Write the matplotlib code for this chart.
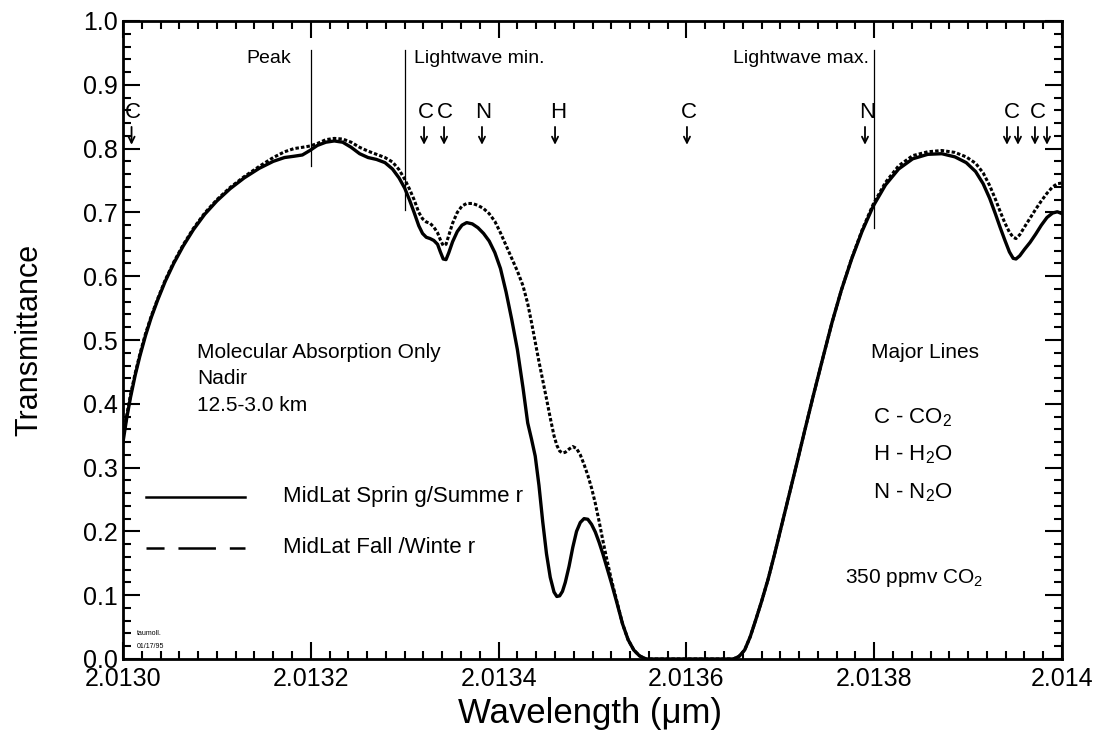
import matplotlib
matplotlib.use('Agg')
import matplotlib.pyplot as plt
from matplotlib.lines import Line2D

plt.rcParams['font.family'] = ['Liberation Sans', 'DejaVu Sans']
plt.rcParams['mathtext.fontset'] = 'custom'
plt.rcParams['mathtext.rm'] = 'Liberation Sans'
plt.rcParams['lines.scale_dashes'] = False

# ---- transmittance spectra (um, fraction) ----
wavelength = [
    2.013000, 2.013004, 2.013008, 2.013013, 2.013018, 2.013024, 2.013030, 2.013037, 2.013045, 2.013054,
    2.013064, 2.013075, 2.013087, 2.013100, 2.013114, 2.013129, 2.013145, 2.013160, 2.013172, 2.013182,
    2.013191, 2.013199, 2.013207, 2.013216, 2.013225, 2.013234, 2.013243, 2.013252, 2.013261, 2.013270,
    2.013279, 2.013287, 2.013294, 2.013300, 2.013305, 2.013310, 2.013315, 2.013319, 2.013323, 2.013327,
    2.013331, 2.013335, 2.013338, 2.013341, 2.013344, 2.013347, 2.013351, 2.013356, 2.013361, 2.013366,
    2.013372, 2.013378, 2.013384, 2.013390, 2.013396, 2.013402, 2.013408, 2.013414, 2.013420, 2.013426,
    2.013431, 2.013435, 2.013439, 2.013443, 2.013447, 2.013451, 2.013455, 2.013459, 2.013462, 2.013465,
    2.013468, 2.013471, 2.013475, 2.013479, 2.013483, 2.013487, 2.013491, 2.013495, 2.013499, 2.013503,
    2.013507, 2.013511, 2.013515, 2.013520, 2.013526, 2.013532, 2.013538, 2.013544, 2.013550, 2.013557,
    2.013610, 2.013650, 2.013656, 2.013662, 2.013668, 2.013674, 2.013680, 2.013687, 2.013694, 2.013701,
    2.013709, 2.013717, 2.013726, 2.013735, 2.013745, 2.013755, 2.013765, 2.013776, 2.013787, 2.013799,
    2.013812, 2.013826, 2.013841, 2.013857, 2.013872, 2.013886, 2.013898, 2.013908, 2.013916, 2.013923,
    2.013929, 2.013934, 2.013939, 2.013944, 2.013948, 2.013951, 2.013955, 2.013960, 2.013966, 2.013972,
    2.013978, 2.013984, 2.013990, 2.013995, 2.014000,
]
spring_summer = [
    0.340, 0.378, 0.410, 0.445, 0.475, 0.507, 0.535, 0.563, 0.592, 0.620,
    0.647, 0.673, 0.697, 0.718, 0.737, 0.754, 0.769, 0.780, 0.786, 0.788,
    0.790, 0.797, 0.805, 0.810, 0.812, 0.810, 0.802, 0.792, 0.786, 0.783,
    0.778, 0.768, 0.754, 0.738, 0.720, 0.700, 0.679, 0.667, 0.661, 0.659,
    0.656, 0.650, 0.638, 0.627, 0.626, 0.637, 0.654, 0.670, 0.680, 0.684,
    0.682, 0.676, 0.667, 0.655, 0.637, 0.612, 0.575, 0.532, 0.485, 0.425,
    0.370, 0.345, 0.318, 0.272, 0.215, 0.165, 0.128, 0.105, 0.098, 0.099,
    0.106, 0.120, 0.145, 0.175, 0.200, 0.214, 0.220, 0.219, 0.211, 0.199,
    0.183, 0.165, 0.145, 0.120, 0.088, 0.055, 0.030, 0.014, 0.005, 0.000,
    0.000, 0.000, 0.004, 0.014, 0.035, 0.062, 0.090, 0.125, 0.165, 0.207,
    0.255, 0.303, 0.358, 0.412, 0.470, 0.527, 0.578, 0.627, 0.670, 0.710,
    0.743, 0.768, 0.784, 0.791, 0.792, 0.787, 0.778, 0.764, 0.745, 0.722,
    0.698, 0.677, 0.657, 0.638, 0.628, 0.627, 0.632, 0.642, 0.653, 0.666,
    0.680, 0.692, 0.699, 0.701, 0.698,
]
fall_winter = [
    0.345, 0.382, 0.414, 0.448, 0.478, 0.510, 0.537, 0.565, 0.594, 0.622,
    0.649, 0.675, 0.699, 0.720, 0.739, 0.756, 0.772, 0.786, 0.795, 0.800,
    0.802, 0.804, 0.808, 0.814, 0.816, 0.815, 0.810, 0.802, 0.796, 0.791,
    0.786, 0.779, 0.767, 0.752, 0.737, 0.720, 0.700, 0.690, 0.685, 0.683,
    0.677, 0.668, 0.657, 0.648, 0.650, 0.664, 0.683, 0.700, 0.710, 0.714,
    0.714, 0.711, 0.706, 0.698, 0.686, 0.668, 0.648, 0.628, 0.608, 0.585,
    0.557, 0.528, 0.497, 0.466, 0.437, 0.408, 0.378, 0.350, 0.335, 0.326,
    0.323, 0.324, 0.329, 0.333, 0.330, 0.320, 0.305, 0.288, 0.268, 0.244,
    0.216, 0.186, 0.158, 0.125, 0.090, 0.055, 0.030, 0.014, 0.005, 0.000,
    0.000, 0.000, 0.004, 0.014, 0.035, 0.062, 0.090, 0.125, 0.165, 0.207,
    0.255, 0.303, 0.358, 0.412, 0.470, 0.527, 0.578, 0.628, 0.672, 0.713,
    0.747, 0.773, 0.789, 0.795, 0.797, 0.794, 0.787, 0.777, 0.762, 0.742,
    0.721, 0.702, 0.684, 0.669, 0.661, 0.659, 0.665, 0.677, 0.691, 0.705,
    0.718, 0.730, 0.740, 0.745, 0.746,
]

# absorption line markers (species letter + arrows)
letter_text = ['C', 'C', 'C', 'N', 'H', 'C', 'N', 'C', 'C']
letter_x = [2.0130106, 2.0133227, 2.0133429, 2.0133834, 2.0134633,
            2.0136028, 2.0137923, 2.0139468, 2.0139744]
arrow_x = [2.0130091, 2.0133206, 2.0133419, 2.0133823, 2.0134601, 2.0136006,
           2.0137902, 2.0139414, 2.0139531, 2.0139712, 2.0139840]

# reference wavelengths: (label, x, bottom of line)
ref_labels = ['Peak', 'Lightwave min.', 'Lightwave max.']
ref_x = [2.0132, 2.0133, 2.0138]
ref_bottom = [0.772, 0.703, 0.675]

xtick_vals = [2.0130, 2.0132, 2.0134, 2.0136, 2.0138, 2.0140]
xtick_labels = ['2.0130', '2.0132', '2.0134', '2.0136', '2.0138', '2.014']
ytick_vals = [0.0, 0.1, 0.2, 0.3, 0.4, 0.5, 0.6, 0.7, 0.8, 0.9, 1.0]

fig = plt.figure(figsize=(10.94, 7.36), dpi=100)
ax = fig.add_axes([123 / 1094, 1 - 659 / 736, 939 / 1094, 638 / 736])

ax.plot(wavelength, spring_summer, color='black', lw=2.4)
ax.plot(wavelength, fall_winter, color='black', lw=2.2, dashes=(2.5, 1.5))

# vertical markers with labels
for x, yb in zip(ref_x, ref_bottom):
    ax.plot([x, x], [yb, 0.955], color='black', lw=0.9)
ax.text(2.013179, 0.942, ref_labels[0], ha='right', va='center', fontsize=14)
ax.text(2.013310, 0.942, ref_labels[1], ha='left', va='center', fontsize=14)
ax.text(2.013794, 0.942, ref_labels[2], ha='right', va='center', fontsize=14)

for t, x in zip(letter_text, letter_x):
    ax.text(x, 0.857, t, ha='center', va='center', fontsize=16)
for x in arrow_x:
    ax.annotate('', xy=(x, 0.806), xytext=(x, 0.834),
                arrowprops=dict(arrowstyle='->', lw=1.3, color='black',
                                mutation_scale=11, shrinkA=0, shrinkB=0))

# annotation blocks
ax.text(0.079, 0.481, 'Molecular Absorption Only', transform=ax.transAxes,
        ha='left', va='center', fontsize=15)
ax.text(0.079, 0.439, 'Nadir', transform=ax.transAxes,
        ha='left', va='center', fontsize=15)
ax.text(0.079, 0.397, '12.5-3.0 km', transform=ax.transAxes,
        ha='left', va='center', fontsize=15)

ax.text(0.854, 0.481, 'Major Lines', transform=ax.transAxes,
        ha='center', va='center', fontsize=15)
ax.text(0.799, 0.378, r'C - CO$_\mathregular{2}$', transform=ax.transAxes,
        ha='left', va='center', fontsize=16)
ax.text(0.799, 0.320, r'H - H$_\mathregular{2}$O', transform=ax.transAxes,
        ha='left', va='center', fontsize=16)
ax.text(0.799, 0.260, r'N - N$_\mathregular{2}$O', transform=ax.transAxes,
        ha='left', va='center', fontsize=16)
ax.text(0.843, 0.127, r'350 ppmv CO$_\mathregular{2}$', transform=ax.transAxes,
        ha='center', va='center', fontsize=15)

# hand-drawn legend
ax.add_line(Line2D([0.024, 0.130], [0.254, 0.254], transform=ax.transAxes,
                   color='black', lw=1.8))
ax.add_line(Line2D([0.024, 0.130], [0.174, 0.174], transform=ax.transAxes,
                   color='black', lw=1.8, dashes=(13, 10, 27, 10, 13, 200)))
ax.text(0.170, 0.254, 'MidLat Sprin g/Summe r', transform=ax.transAxes,
        ha='left', va='center', fontsize=16)
ax.text(0.170, 0.174, 'MidLat Fall /Winte r', transform=ax.transAxes,
        ha='left', va='center', fontsize=16)

ax.text(0.015, 0.040, 'taumoll.', transform=ax.transAxes,
        ha='left', va='center', fontsize=5)
ax.text(0.015, 0.020, '01/17/95', transform=ax.transAxes,
        ha='left', va='center', fontsize=5)

ax.set_xlim(2.0130, 2.0140)
ax.set_ylim(0, 1)
ax.set_xticks(xtick_vals, xtick_labels, fontsize=18)
ax.set_yticks(ytick_vals, ['%.1f' % v for v in ytick_vals], fontsize=18)
ax.set_xticks([2.0130 + i * 0.00002 for i in range(51)], minor=True)
ax.set_yticks([i * 0.02 for i in range(51)], minor=True)
ax.tick_params(which='both', direction='in', top=True, right=True, width=1.5)
ax.tick_params(which='major', length=12)
ax.tick_params(axis='x', which='major', pad=6)
ax.tick_params(axis='y', which='major', pad=4)
ax.tick_params(which='minor', length=6)
for sp in ax.spines.values():
    sp.set_linewidth(2)

ax.set_xlabel('Wavelength (μm)', fontsize=25)
ax.set_ylabel('Transmittance', fontsize=22)
ax.xaxis.set_label_coords(0.497, -0.060)
ax.yaxis.set_label_coords(-0.084, 0.5)

fig.savefig('out.png', dpi=100)
